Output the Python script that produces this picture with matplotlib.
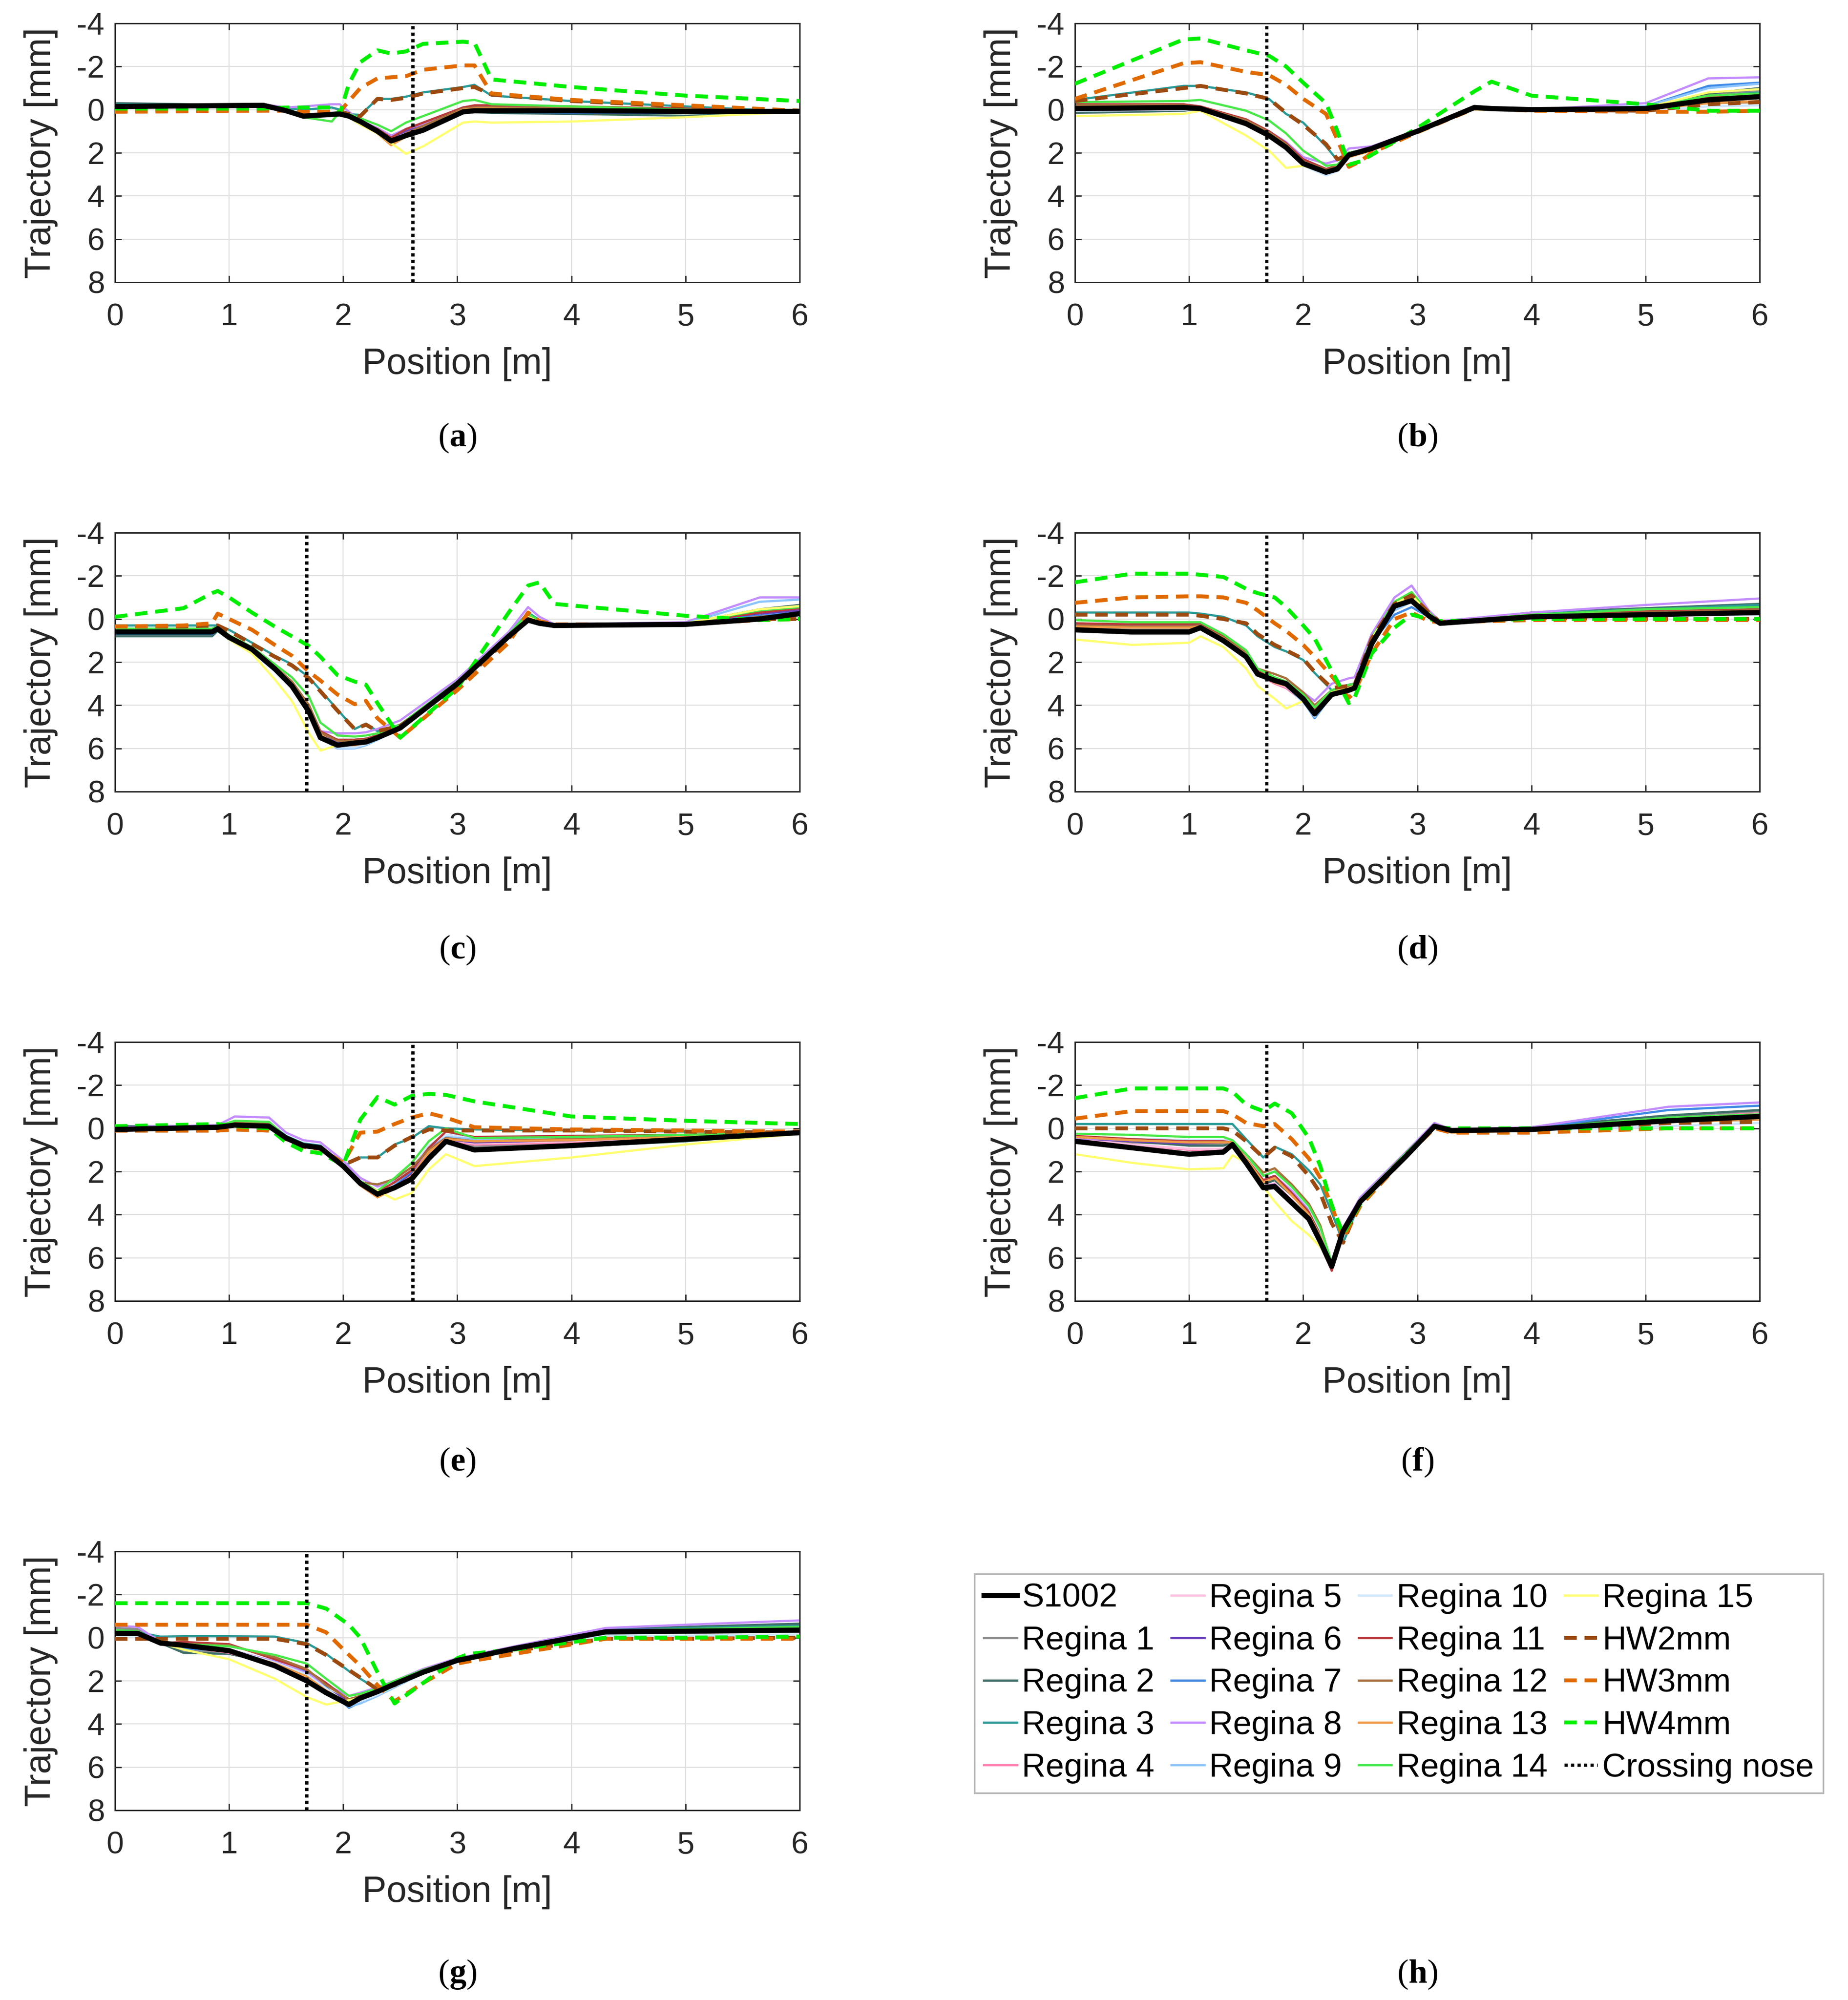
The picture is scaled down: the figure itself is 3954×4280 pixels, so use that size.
import matplotlib
matplotlib.use("Agg")
import matplotlib.pyplot as plt
from matplotlib.lines import Line2D

plt.rcParams['font.family'] = ['Liberation Sans', 'DejaVu Sans']
plt.rcParams['axes.unicode_minus'] = False
plt.rcParams['mathtext.fontset'] = 'custom'
plt.rcParams['mathtext.rm'] = 'Liberation Serif'
plt.rcParams['mathtext.bf'] = 'Liberation Serif:bold'

# ---------------- data ----------------
SERIES = ["S1002", "Regina 1", "Regina 2", "Regina 3", "Regina 4", "Regina 5",
          "Regina 6", "Regina 7", "Regina 8", "Regina 9", "Regina 10",
          "Regina 11", "Regina 12", "Regina 13", "Regina 14", "Regina 15",
          "HW2mm", "HW3mm", "HW4mm"]
COLORS = ["#000000", "#8c8c8c", "#3e6e68", "#2a9a96", "#ff80b0", "#ffbfe0",
          "#6a40b8", "#3f8ae6", "#c38cff", "#8cc4ff", "#cfe6ff",
          "#b83a3a", "#a8703c", "#f09a48", "#48e848", "#ffff70",
          "#9c4a10", "#e06a00", "#00ee00"]
PANEL_LETTERS = ["a", "b", "c", "d", "e", "f", "g"]
NOSE = [2.61, 1.68, 1.68, 1.68, 2.61, 1.68, 1.68]
X_TICKS = [0, 1, 2, 3, 4, 5, 6]
Y_TICKS = [-4, -2, 0, 2, 4, 6, 8]

# Panel (a)
XA = [0, 1.3, 1.5, 1.65, 1.9, 1.97, 2.05, 2.15, 2.3, 2.42, 2.55, 2.7, 3.05, 3.15, 3.3, 4.0, 5.0, 6.0]
YA = [
    [-0.15, -0.2, 0.05, 0.3, 0.22, 0.2, 0.3, 0.55, 1.0, 1.45, 1.2, 0.95, 0.1, 0.05, 0.05, 0.05, 0.08, 0.08],   # S1002
    [-0.2, -0.2, 0.0, 0.25, 0.15, 0.1, 0.25, 0.5, 0.9, 1.3, 1.05, 0.8, 0.0, -0.05, -0.05, 0.0, 0.05, 0.08],    # R1
    [-0.3, -0.2, 0.05, 0.3, 0.25, 0.2, 0.3, 0.55, 1.0, 1.4, 1.1, 0.85, 0.1, 0.1, 0.15, 0.2, 0.28, 0.08],      # R2
    [-0.25, -0.2, -0.05, 0.0, -0.1, 0.0, 0.2, 0.25, -0.5, -0.5, -0.6, -0.8, -1.05, -1.15, -0.65, -0.4, -0.15, 0.1],  # R3
    [-0.1, -0.2, 0.05, 0.3, 0.2, 0.2, 0.35, 0.6, 0.95, 1.4, 1.1, 0.8, -0.05, -0.1, -0.1, -0.05, 0.05, 0.08],  # R4
    [-0.1, -0.2, 0.05, 0.25, 0.15, 0.15, 0.3, 0.55, 0.9, 1.35, 1.05, 0.75, -0.05, -0.1, -0.1, -0.05, 0.05, 0.08],  # R5
    [-0.15, -0.2, 0.0, 0.25, 0.15, 0.15, 0.3, 0.6, 0.95, 1.35, 1.0, 0.7, -0.1, -0.15, -0.1, -0.05, 0.05, 0.08],  # R6
    [-0.15, -0.2, 0.05, 0.3, 0.2, 0.2, 0.35, 0.65, 1.0, 1.4, 1.15, 0.85, 0.05, 0.05, 0.1, 0.15, 0.15, 0.08],  # R7
    [-0.2, -0.25, -0.1, -0.15, -0.25, -0.25, 0.1, 0.5, 0.85, 1.2, 0.9, 0.65, -0.1, -0.15, -0.1, -0.05, 0.05, 0.08],  # R8
    [-0.2, -0.2, 0.05, 0.3, 0.2, 0.2, 0.35, 0.7, 1.05, 1.45, 1.15, 0.85, 0.0, -0.05, -0.05, 0.0, 0.05, 0.08],  # R9
    [-0.2, -0.2, 0.05, 0.25, 0.2, 0.2, 0.35, 0.65, 1.0, 1.4, 1.1, 0.8, 0.0, -0.05, -0.05, 0.0, 0.05, 0.08],   # R10
    [-0.1, -0.2, 0.05, 0.3, 0.2, 0.2, 0.3, 0.55, 0.9, 1.3, 0.9, 0.6, -0.1, -0.2, -0.2, -0.15, -0.05, 0.08],   # R11
    [-0.1, -0.2, 0.05, 0.3, 0.25, 0.2, 0.35, 0.6, 1.0, 1.5, 1.1, 0.75, -0.05, -0.1, -0.1, -0.05, 0.0, 0.08],  # R12
    [-0.1, -0.2, 0.05, 0.3, 0.25, 0.2, 0.35, 0.65, 1.1, 1.65, 1.25, 0.9, 0.0, -0.05, -0.05, 0.0, 0.05, 0.08],  # R13
    [-0.1, -0.2, 0.1, 0.35, 0.55, 0.1, 0.2, 0.4, 0.7, 1.0, 0.6, 0.3, -0.4, -0.45, -0.25, -0.15, 0.0, 0.08],   # R14
    [-0.15, -0.2, 0.05, 0.3, 0.2, 0.2, 0.35, 0.7, 1.1, 1.55, 2.05, 1.7, 0.6, 0.55, 0.6, 0.55, 0.35, 0.1],     # R15
    [0.05, 0.0, 0.05, 0.1, 0.1, 0.1, 0.2, 0.3, -0.5, -0.45, -0.55, -0.75, -1.0, -1.05, -0.7, -0.4, -0.15, 0.05],   # HW2
    [0.1, 0.05, 0.05, 0.1, 0.1, 0.1, -0.4, -1.0, -1.45, -1.5, -1.55, -1.85, -2.05, -2.05, -0.75, -0.45, -0.2, 0.05],  # HW3
    [-0.05, -0.05, -0.1, -0.1, -0.1, 0.2, -1.2, -2.2, -2.75, -2.6, -2.7, -3.05, -3.15, -3.1, -1.4, -1.05, -0.65, -0.4],  # HW4
]

# Panel (b)
XB = [0, 0.95, 1.1, 1.5, 1.7, 1.85, 2.0, 2.2, 2.3, 2.4, 2.5, 2.6, 3.0, 3.5, 3.65, 4.0, 5.0, 5.55, 6.0]
YB = [
    [-0.05, -0.1, -0.05, 0.65, 1.2, 1.75, 2.5, 2.9, 2.75, 2.1, 1.95, 1.8, 1.0, -0.1, -0.05, 0.0, -0.05, -0.45, -0.6],
    [0.0, -0.05, -0.05, 0.6, 1.1, 1.6, 2.3, 2.75, 2.6, 2.0, 1.9, 1.75, 1.0, -0.1, -0.05, 0.0, -0.1, -0.7, -0.9],
    [0.15, 0.05, -0.05, 0.6, 1.15, 1.7, 2.4, 2.8, 2.65, 2.05, 1.9, 1.8, 1.0, -0.1, -0.05, 0.0, -0.1, -0.75, -1.0],
    [-0.45, -1.1, -1.1, -0.8, -0.5, 0.2, 0.6, 1.7, 2.35, 2.0, 1.9, 1.8, 1.0, -0.1, -0.05, 0.0, -0.1, -0.6, -0.8],
    [0.05, 0.0, -0.05, 0.7, 1.25, 1.8, 2.55, 2.85, 2.7, 2.1, 1.95, 1.8, 1.0, -0.1, -0.05, 0.0, -0.05, -0.45, -0.55],
    [0.0, -0.05, -0.05, 0.65, 1.2, 1.75, 2.5, 2.8, 2.65, 2.05, 1.9, 1.75, 1.0, -0.1, -0.05, 0.0, -0.1, -0.55, -0.7],
    [-0.05, -0.1, -0.1, 0.6, 1.15, 1.7, 2.45, 2.85, 2.7, 2.05, 1.9, 1.75, 1.0, -0.1, -0.05, 0.0, -0.1, -0.6, -0.75],
    [0.0, -0.05, -0.05, 0.6, 1.1, 1.6, 2.35, 2.8, 2.65, 2.0, 1.9, 1.75, 1.0, -0.1, -0.05, 0.0, -0.15, -1.1, -1.25],
    [-0.05, -0.1, -0.1, 0.5, 1.0, 1.5, 2.2, 2.5, 2.35, 1.8, 1.75, 1.7, 0.95, -0.1, -0.05, 0.0, -0.3, -1.45, -1.5],
    [0.0, -0.05, -0.05, 0.65, 1.2, 1.8, 2.55, 3.0, 2.8, 2.15, 2.0, 1.85, 1.0, -0.1, -0.05, 0.0, -0.15, -1.0, -1.2],
    [0.05, 0.0, -0.05, 0.7, 1.25, 1.85, 2.6, 3.05, 2.85, 2.2, 2.0, 1.85, 1.0, -0.1, -0.05, 0.0, 0.05, -0.15, -0.2],
    [-0.25, -0.25, -0.15, 0.45, 1.0, 1.55, 2.3, 2.75, 2.6, 2.0, 1.9, 1.75, 1.0, -0.1, -0.05, 0.0, -0.1, -0.6, -0.7],
    [-0.2, -0.2, -0.1, 0.5, 1.05, 1.6, 2.4, 2.8, 2.65, 2.1, 1.95, 1.8, 1.0, -0.1, -0.05, 0.0, -0.05, -0.3, -0.35],
    [-0.05, -0.1, -0.05, 0.6, 1.15, 1.75, 2.55, 2.9, 2.8, 2.2, 2.05, 1.9, 1.05, -0.1, -0.05, 0.0, 0.0, -0.3, -0.4],
    [-0.35, -0.4, -0.45, 0.05, 0.5, 1.1, 1.9, 2.6, 2.55, 2.0, 1.9, 1.8, 1.0, -0.1, -0.05, 0.0, -0.1, -0.65, -0.75],
    [0.3, 0.2, 0.05, 1.2, 1.9, 2.7, 2.6, 2.9, 2.7, 2.1, 1.95, 1.8, 1.0, -0.1, -0.05, 0.0, -0.1, -0.8, -0.95],
    [-0.4, -1.0, -1.1, -0.75, -0.5, 0.15, 0.7, 1.6, 2.3, 2.1, 1.95, 1.8, 1.0, -0.1, -0.05, 0.0, 0.05, -0.25, -0.35],
    [-0.5, -2.15, -2.2, -1.75, -1.6, -1.15, -0.5, 0.2, 1.4, 2.65, 2.4, 2.0, 1.05, -0.05, -0.05, 0.05, 0.1, 0.1, 0.05],
    [-1.2, -3.25, -3.3, -2.75, -2.5, -2.0, -1.25, -0.3, 1.0, 2.55, 2.4, 2.1, 0.85, -0.85, -1.3, -0.65, -0.25, 0.05, 0.05],
]

# Panel (c)
XC = [0, 0.6, 0.85, 0.9, 1.0, 1.2, 1.4, 1.55, 1.7, 1.8, 1.95, 2.1, 2.2, 2.3, 2.5, 3.0, 3.45, 3.62, 3.72, 3.85, 5.0, 5.65, 6.0]
YC = [
    [0.6, 0.6, 0.6, 0.45, 0.85, 1.4, 2.3, 3.1, 4.3, 5.5, 5.85, 5.75, 5.7, 5.5, 5.05, 3.0, 0.8, 0.05, 0.2, 0.3, 0.25, 0.0, -0.25],
    [0.7, 0.7, 0.7, 0.5, 0.9, 1.45, 2.35, 3.15, 4.3, 5.3, 5.6, 5.6, 5.55, 5.4, 4.95, 2.95, 0.75, -0.15, 0.15, 0.3, 0.2, -0.35, -0.6],
    [0.8, 0.8, 0.8, 0.55, 0.95, 1.5, 2.4, 3.2, 4.3, 5.35, 5.6, 5.6, 5.55, 5.4, 4.95, 2.95, 0.75, -0.2, 0.1, 0.3, 0.2, -0.45, -0.65],
    [0.3, 0.3, 0.3, 0.3, 0.5, 1.1, 1.7, 2.1, 2.7, 3.3, 4.2, 5.1, 4.85, 5.2, 4.9, 2.9, 0.7, -0.3, 0.05, 0.3, 0.2, -0.3, -0.5],
    [0.6, 0.6, 0.6, 0.45, 0.9, 1.4, 2.3, 3.0, 4.1, 5.3, 5.7, 5.7, 5.65, 5.45, 5.0, 2.95, 0.8, -0.1, 0.15, 0.3, 0.2, -0.3, -0.45],
    [0.55, 0.55, 0.55, 0.4, 0.85, 1.35, 2.25, 3.0, 4.1, 5.25, 5.65, 5.65, 5.6, 5.4, 4.95, 2.95, 0.75, -0.15, 0.15, 0.3, 0.2, -0.2, -0.35],
    [0.65, 0.65, 0.65, 0.5, 0.9, 1.45, 2.35, 3.1, 4.2, 5.35, 5.75, 5.7, 5.65, 5.45, 5.0, 2.95, 0.8, -0.1, 0.15, 0.3, 0.2, -0.25, -0.4],
    [0.7, 0.7, 0.7, 0.5, 0.95, 1.5, 2.4, 3.2, 4.4, 5.5, 6.0, 5.95, 5.8, 5.55, 5.05, 3.0, 0.85, -0.05, 0.2, 0.3, 0.2, -0.15, -0.3],
    [0.5, 0.5, 0.5, 0.35, 0.8, 1.35, 2.2, 2.9, 4.0, 5.2, 5.3, 5.3, 5.25, 5.1, 4.7, 2.8, 0.6, -0.55, -0.1, 0.25, 0.15, -1.0, -1.0],
    [0.6, 0.6, 0.6, 0.45, 0.9, 1.45, 2.35, 3.15, 4.3, 5.45, 6.0, 6.0, 5.85, 5.6, 5.1, 3.0, 0.85, -0.1, 0.15, 0.3, 0.2, -0.8, -0.9],
    [0.55, 0.55, 0.55, 0.4, 0.85, 1.4, 2.3, 3.1, 4.25, 5.4, 5.95, 5.95, 5.8, 5.55, 5.05, 3.0, 0.8, -0.1, 0.15, 0.3, 0.25, 0.05, -0.1],
    [0.55, 0.55, 0.55, 0.4, 0.85, 1.35, 2.2, 2.9, 4.0, 5.2, 5.6, 5.6, 5.55, 5.4, 4.95, 2.95, 0.75, -0.2, 0.1, 0.3, 0.2, -0.3, -0.5],
    [0.5, 0.5, 0.5, 0.4, 0.8, 1.35, 2.2, 2.9, 4.0, 5.25, 5.65, 5.65, 5.6, 5.45, 5.0, 3.0, 0.85, -0.1, 0.15, 0.3, 0.25, -0.1, -0.25],
    [0.6, 0.6, 0.6, 0.45, 0.9, 1.45, 2.35, 3.1, 4.2, 5.35, 5.85, 5.85, 5.75, 5.55, 5.1, 3.05, 0.9, -0.05, 0.2, 0.3, 0.25, -0.05, -0.2],
    [0.45, 0.45, 0.45, 0.35, 0.75, 1.3, 2.1, 2.7, 3.6, 4.8, 5.4, 5.45, 5.4, 5.3, 4.9, 2.9, 0.7, -0.25, 0.1, 0.3, 0.2, -0.4, -0.55],
    [0.65, 0.65, 0.65, 0.5, 0.95, 1.6, 2.8, 3.8, 5.3, 6.1, 5.85, 5.75, 5.7, 5.5, 5.05, 3.0, 0.8, -0.1, 0.15, 0.3, 0.2, -0.45, -0.6],
    [0.35, 0.35, 0.3, 0.3, 0.55, 1.15, 1.75, 2.15, 2.75, 3.35, 4.25, 5.1, 4.9, 5.2, 4.95, 3.1, 0.9, 0.0, 0.2, 0.3, 0.25, 0.0, 0.0],
    [0.35, 0.3, 0.2, -0.25, 0.0, 0.5, 1.2, 1.7, 2.45, 2.85, 3.5, 3.95, 3.8, 4.6, 5.5, 3.3, 1.1, -0.3, 0.1, 0.25, 0.25, 0.05, 0.0],
    [-0.1, -0.5, -1.2, -1.3, -1.0, -0.3, 0.35, 0.8, 1.25, 1.75, 2.6, 2.9, 3.05, 3.9, 5.5, 3.2, -0.3, -1.55, -1.7, -0.7, -0.15, 0.05, 0.0],
]

# Panel (d)
XD = [0, 0.5, 1.0, 1.1, 1.3, 1.5, 1.6, 1.75, 1.85, 2.0, 2.1, 2.25, 2.4, 2.45, 2.6, 2.8, 2.95, 3.1, 3.2, 4.0, 5.0, 6.0]
YD = [
    [0.5, 0.6, 0.6, 0.4, 1.0, 1.75, 2.55, 2.85, 3.0, 3.7, 4.4, 3.5, 3.3, 3.2, 1.15, -0.6, -0.85, -0.15, 0.2, -0.1, -0.2, -0.3],
    [0.4, 0.45, 0.45, 0.35, 0.95, 1.7, 2.5, 2.85, 3.0, 3.6, 4.2, 3.4, 3.1, 3.05, 0.9, -0.7, -1.15, -0.3, 0.15, -0.2, -0.4, -0.6],
    [0.35, 0.4, 0.4, 0.35, 0.9, 1.65, 2.45, 2.8, 2.95, 3.55, 4.15, 3.35, 3.05, 3.0, 0.85, -0.75, -1.2, -0.3, 0.15, -0.3, -0.5, -0.7],
    [-0.3, -0.3, -0.3, -0.25, -0.1, 0.3, 0.8, 1.3, 1.5, 1.9, 2.5, 3.3, 3.1, 3.05, 0.9, -0.7, -1.15, -0.3, 0.15, -0.25, -0.45, -0.65],
    [0.3, 0.35, 0.35, 0.3, 0.85, 1.6, 2.55, 3.0, 3.2, 3.8, 4.3, 3.4, 3.15, 3.1, 0.9, -0.7, -1.1, -0.25, 0.15, -0.1, -0.25, -0.4],
    [0.3, 0.35, 0.35, 0.3, 0.85, 1.6, 2.5, 2.95, 3.15, 3.75, 4.25, 3.35, 3.1, 3.05, 0.9, -0.75, -1.15, -0.3, 0.15, -0.1, -0.3, -0.45],
    [0.25, 0.3, 0.3, 0.25, 0.8, 1.55, 2.45, 2.85, 3.05, 3.65, 4.2, 3.3, 3.05, 3.0, 0.85, -0.8, -1.2, -0.3, 0.15, -0.15, -0.3, -0.45],
    [0.3, 0.35, 0.35, 0.3, 0.85, 1.6, 2.5, 2.9, 3.1, 3.8, 4.6, 3.55, 3.3, 3.2, 1.1, -0.2, -0.55, -0.1, 0.2, -0.1, -0.2, -0.25],
    [0.2, 0.25, 0.25, 0.2, 0.8, 1.5, 2.4, 2.75, 2.9, 3.4, 3.8, 3.0, 2.75, 2.7, 0.7, -1.0, -1.55, -0.4, 0.1, -0.3, -0.65, -0.95],
    [0.35, 0.4, 0.4, 0.35, 0.9, 1.65, 2.55, 2.9, 3.1, 3.85, 4.55, 3.5, 3.25, 3.15, 1.0, -0.4, -0.8, -0.2, 0.15, -0.15, -0.35, -0.5],
    [0.35, 0.4, 0.4, 0.35, 0.9, 1.65, 2.5, 2.9, 3.05, 3.8, 4.5, 3.45, 3.2, 3.1, 1.0, -0.5, -0.9, -0.2, 0.15, -0.1, -0.15, -0.2],
    [0.2, 0.25, 0.25, 0.2, 0.8, 1.5, 2.4, 2.8, 3.0, 3.6, 4.2, 3.35, 3.1, 3.05, 0.9, -0.75, -1.2, -0.3, 0.15, -0.2, -0.35, -0.45],
    [0.3, 0.35, 0.35, 0.3, 0.85, 1.55, 2.3, 2.55, 2.75, 3.4, 4.0, 3.3, 3.1, 3.05, 0.9, -0.7, -1.15, -0.3, 0.15, -0.15, -0.3, -0.4],
    [0.35, 0.4, 0.4, 0.35, 0.9, 1.65, 2.5, 2.95, 3.1, 3.7, 4.3, 3.5, 3.3, 3.2, 1.0, -0.6, -1.0, -0.25, 0.15, -0.1, -0.2, -0.3],
    [0.05, 0.15, 0.15, 0.15, 0.7, 1.45, 2.3, 2.7, 2.9, 3.5, 4.1, 3.3, 3.05, 3.0, 0.85, -0.8, -1.25, -0.3, 0.15, -0.2, -0.45, -0.55],
    [0.95, 1.2, 1.1, 0.8, 1.3, 2.3, 3.1, 3.7, 4.15, 3.8, 4.3, 3.4, 3.2, 3.1, 0.9, -0.7, -1.1, -0.25, 0.15, -0.1, -0.25, -0.35],
    [-0.2, -0.2, -0.2, -0.15, 0.0, 0.2, 0.7, 1.2, 1.45, 1.85, 2.45, 3.2, 3.1, 3.05, 0.9, -0.7, -1.1, -0.3, 0.15, -0.05, 0.0, 0.0],
    [-0.75, -1.0, -1.05, -1.05, -1.0, -0.75, -0.4, 0.2, 0.55, 1.2, 1.75, 2.65, 3.65, 3.4, 1.6, 0.0, -0.3, 0.1, 0.15, 0.05, 0.05, 0.05],
    [-1.7, -2.1, -2.1, -2.05, -1.95, -1.4, -1.2, -1.0, -0.55, 0.3, 0.9, 2.4, 3.9, 3.65, 1.6, 0.4, -0.2, 0.0, 0.1, 0.0, 0.0, 0.0],
]

# Panel (e)
XE = [0, 0.9, 1.05, 1.35, 1.5, 1.65, 1.8, 2.0, 2.15, 2.3, 2.45, 2.6, 2.75, 2.9, 3.15, 4.0, 5.0, 6.0]
YE = [
    [0.05, -0.05, -0.15, -0.1, 0.45, 0.8, 0.9, 1.75, 2.55, 3.05, 2.75, 2.35, 1.4, 0.6, 1.0, 0.8, 0.5, 0.2],
    [0.05, -0.1, -0.25, -0.2, 0.4, 0.7, 0.8, 1.7, 2.5, 2.95, 2.65, 2.2, 1.2, 0.45, 0.85, 0.7, 0.45, 0.2],
    [-0.1, -0.1, -0.25, -0.2, 0.4, 0.75, 0.85, 1.75, 2.55, 3.0, 2.65, 2.25, 1.3, 0.5, 0.95, 0.85, 0.6, 0.2],
    [-0.05, -0.1, -0.3, -0.25, 0.35, 0.7, 0.8, 1.75, 1.35, 1.35, 0.75, 0.45, -0.1, 0.0, 0.05, 0.1, 0.15, 0.2],
    [0.05, -0.05, -0.2, -0.15, 0.45, 0.8, 0.9, 1.75, 2.55, 3.0, 2.6, 2.1, 1.1, 0.55, 0.75, 0.65, 0.45, 0.2],
    [0.0, -0.1, -0.3, -0.25, 0.4, 0.75, 0.85, 1.7, 2.5, 2.95, 2.55, 2.05, 1.0, 0.5, 0.7, 0.6, 0.4, 0.2],
    [0.0, -0.1, -0.3, -0.25, 0.4, 0.75, 0.85, 1.7, 2.5, 2.95, 2.6, 2.1, 1.05, 0.5, 0.65, 0.55, 0.4, 0.2],
    [0.05, -0.05, -0.2, -0.15, 0.45, 0.8, 0.9, 1.8, 2.6, 3.1, 2.6, 2.0, 0.9, 0.35, 0.55, 0.5, 0.35, 0.2],
    [-0.05, -0.15, -0.55, -0.5, 0.2, 0.55, 0.65, 1.5, 2.3, 2.7, 2.4, 1.95, 1.0, 0.4, 0.45, 0.4, 0.3, 0.2],
    [0.05, -0.05, -0.25, -0.2, 0.45, 0.8, 0.9, 1.8, 2.6, 3.15, 2.55, 1.9, 0.8, 0.35, 0.5, 0.45, 0.35, 0.2],
    [0.05, -0.05, -0.25, -0.2, 0.45, 0.8, 0.9, 1.8, 2.6, 3.1, 2.5, 1.9, 0.8, 0.3, 0.4, 0.35, 0.3, 0.2],
    [0.0, -0.1, -0.3, -0.25, 0.4, 0.75, 0.85, 1.7, 2.5, 2.95, 2.5, 1.95, 0.9, 0.15, 0.4, 0.35, 0.3, 0.2],
    [0.0, -0.1, -0.25, -0.2, 0.45, 0.8, 0.9, 1.75, 2.5, 2.6, 2.35, 1.8, 1.0, 0.45, 0.6, 0.5, 0.4, 0.2],
    [0.05, -0.05, -0.2, -0.15, 0.45, 0.8, 0.9, 1.8, 2.65, 3.2, 2.8, 2.2, 1.1, 0.5, 0.6, 0.55, 0.4, 0.2],
    [0.05, -0.1, -0.35, -0.3, 0.4, 0.75, 0.85, 1.7, 2.45, 2.9, 2.3, 1.6, 0.6, 0.0, 0.45, 0.4, 0.3, 0.2],
    [0.05, -0.05, -0.2, -0.15, 0.45, 0.8, 0.9, 1.75, 2.55, 2.9, 3.3, 3.0, 1.9, 1.2, 1.75, 1.35, 0.75, 0.25],
    [0.1, 0.1, 0.05, 0.1, 0.5, 0.85, 0.95, 1.7, 1.35, 1.35, 0.8, 0.4, 0.05, 0.1, 0.1, 0.1, 0.15, 0.2],
    [0.1, 0.1, 0.05, 0.1, 0.5, 0.85, 0.95, 1.6, 0.2, 0.15, -0.2, -0.5, -0.7, -0.5, -0.05, 0.05, 0.1, 0.15],
    [-0.1, -0.2, -0.1, 0.0, 0.65, 1.05, 1.15, 1.7, -0.4, -1.45, -1.1, -1.5, -1.6, -1.55, -1.25, -0.55, -0.35, -0.2],
]

# Panel (f)
XF = [0, 0.5, 1.0, 1.3, 1.38, 1.5, 1.65, 1.75, 1.9, 2.05, 2.15, 2.25, 2.35, 2.5, 2.9, 3.15, 3.3, 4.0, 5.2, 6.0]
YF = [
    [0.6, 0.9, 1.2, 1.1, 0.75, 1.6, 2.75, 2.7, 3.45, 4.2, 5.25, 6.4, 4.75, 3.4, 1.3, -0.1, 0.1, 0.05, -0.35, -0.55],
    [0.5, 0.65, 0.75, 0.7, 0.65, 1.5, 2.5, 2.3, 3.0, 3.8, 4.8, 6.2, 4.7, 3.4, 1.2, -0.15, 0.1, 0.0, -0.55, -0.8],
    [0.45, 0.6, 0.8, 0.8, 0.7, 1.5, 2.6, 2.4, 3.1, 3.9, 4.9, 6.25, 4.75, 3.4, 1.2, -0.15, 0.1, -0.05, -0.6, -0.85],
    [-0.2, -0.2, -0.2, -0.2, -0.2, 0.5, 1.35, 0.85, 1.2, 1.95, 2.6, 3.9, 5.3, 3.4, 1.2, -0.1, 0.1, 0.0, -0.45, -0.6],
    [0.5, 0.75, 1.0, 1.0, 0.75, 1.6, 2.7, 2.6, 3.4, 4.3, 5.4, 6.6, 4.9, 3.4, 1.3, -0.1, 0.15, 0.05, -0.45, -0.7],
    [0.5, 0.75, 0.95, 0.95, 0.7, 1.55, 2.65, 2.55, 3.3, 4.2, 5.3, 6.5, 4.85, 3.4, 1.3, -0.1, 0.15, 0.05, -0.4, -0.6],
    [0.45, 0.6, 0.7, 0.65, 0.65, 1.5, 2.7, 2.6, 3.35, 4.2, 5.3, 6.5, 4.8, 3.4, 1.25, -0.15, 0.1, 0.0, -0.45, -0.6],
    [0.4, 0.5, 0.55, 0.55, 0.6, 1.3, 2.2, 2.0, 2.7, 3.6, 4.6, 6.3, 4.7, 3.3, 1.2, -0.15, 0.1, 0.0, -0.85, -1.05],
    [0.45, 0.55, 0.6, 0.6, 0.6, 1.4, 2.4, 2.2, 2.9, 3.7, 4.7, 6.2, 4.6, 3.2, 1.1, -0.25, 0.05, -0.05, -1.0, -1.2],
    [0.4, 0.55, 0.6, 0.6, 0.6, 1.35, 2.2, 2.0, 2.7, 3.6, 4.6, 6.5, 4.8, 3.4, 1.25, -0.1, 0.15, 0.05, -0.3, -0.4],
    [0.4, 0.5, 0.55, 0.55, 0.6, 1.3, 2.2, 2.0, 2.75, 3.65, 4.7, 6.4, 4.8, 3.4, 1.25, -0.1, 0.15, 0.1, -0.1, -0.25],
    [0.35, 0.5, 0.6, 0.6, 0.65, 1.4, 2.4, 2.2, 3.0, 3.9, 5.0, 6.6, 4.9, 3.4, 1.25, -0.1, 0.15, 0.05, -0.4, -0.55],
    [0.4, 0.55, 0.65, 0.65, 0.65, 1.2, 2.05, 1.85, 2.6, 3.5, 4.5, 6.3, 4.8, 3.4, 1.25, -0.1, 0.15, 0.05, -0.4, -0.5],
    [0.4, 0.55, 0.65, 0.65, 0.65, 1.4, 2.5, 2.3, 3.1, 4.0, 5.0, 6.4, 4.85, 3.45, 1.3, -0.05, 0.2, 0.1, -0.3, -0.4],
    [0.25, 0.3, 0.4, 0.4, 0.55, 1.2, 2.2, 2.0, 2.7, 3.6, 4.6, 6.2, 4.7, 3.3, 1.15, -0.15, 0.1, 0.0, -0.5, -0.65],
    [1.2, 1.6, 1.9, 1.85, 1.25, 1.6, 2.7, 3.4, 4.3, 4.95, 5.5, 6.3, 4.8, 3.4, 1.3, -0.1, 0.15, 0.05, -0.35, -0.5],
    [0.0, 0.0, 0.0, 0.0, 0.1, 0.6, 1.35, 0.9, 1.3, 2.2, 3.0, 4.4, 5.3, 3.4, 1.2, -0.05, 0.15, 0.1, -0.25, -0.3],
    [-0.45, -0.8, -0.8, -0.8, -0.65, -0.25, -0.1, -0.2, 0.5, 1.4, 2.3, 3.6, 5.1, 3.6, 1.3, 0.0, 0.2, 0.2, 0.0, 0.0],
    [-1.4, -1.85, -1.85, -1.85, -1.7, -1.1, -0.8, -1.15, -0.7, 0.45, 1.75, 3.55, 4.9, 3.5, 1.2, -0.05, 0.0, 0.0, 0.0, 0.0],
]

# Panel (g)
XG = [0, 0.2, 0.4, 0.6, 1.0, 1.4, 1.68, 1.85, 2.05, 2.15, 2.3, 2.45, 2.7, 3.0, 3.1, 3.5, 4.3, 5.0, 6.0]
YG = [
    [-0.2, -0.2, 0.25, 0.35, 0.6, 1.3, 2.0, 2.55, 3.1, 2.8, 2.5, 2.15, 1.6, 1.05, 0.95, 0.5, -0.27, -0.3, -0.35],
    [-0.45, -0.4, 0.25, 0.6, 0.65, 1.25, 1.85, 2.45, 2.95, 2.7, 2.4, 2.05, 1.55, 1.0, 0.9, 0.45, -0.35, -0.45, -0.55],
    [-0.35, -0.3, 0.25, 0.7, 0.75, 1.2, 1.8, 2.4, 2.95, 2.7, 2.4, 2.05, 1.5, 1.0, 0.9, 0.45, -0.4, -0.5, -0.65],
    [-0.3, -0.25, -0.05, -0.07, -0.07, -0.05, 0.25, 0.75, 1.55, 1.9, 2.4, 2.1, 1.55, 1.0, 0.9, 0.45, -0.35, -0.45, -0.55],
    [-0.3, -0.25, 0.25, 0.4, 0.7, 1.3, 1.9, 2.5, 3.0, 2.75, 2.45, 2.1, 1.55, 1.0, 0.9, 0.45, -0.3, -0.35, -0.45],
    [-0.25, -0.2, 0.25, 0.35, 0.65, 1.25, 1.85, 2.45, 2.95, 2.7, 2.4, 2.05, 1.5, 1.0, 0.9, 0.45, -0.3, -0.35, -0.45],
    [-0.3, -0.25, 0.25, 0.4, 0.6, 1.2, 1.8, 2.4, 2.9, 2.7, 2.4, 2.05, 1.5, 1.0, 0.9, 0.45, -0.35, -0.4, -0.5],
    [-0.25, -0.2, 0.25, 0.5, 0.6, 1.15, 1.6, 2.3, 3.25, 3.0, 2.6, 2.2, 1.6, 1.05, 0.95, 0.5, -0.25, -0.3, -0.35],
    [-0.55, -0.5, 0.2, 0.35, 0.55, 1.1, 1.65, 2.2, 2.7, 2.55, 2.3, 2.0, 1.45, 0.95, 0.85, 0.4, -0.45, -0.6, -0.8],
    [-0.15, -0.1, 0.25, 0.35, 0.6, 1.2, 1.75, 2.4, 3.2, 3.05, 2.7, 2.3, 1.65, 1.05, 0.95, 0.5, -0.2, -0.25, -0.3],
    [-0.1, -0.05, 0.25, 0.35, 0.55, 1.15, 1.7, 2.35, 3.1, 2.95, 2.65, 2.25, 1.65, 1.05, 0.95, 0.5, -0.1, -0.1, -0.15],
    [-0.3, -0.25, 0.25, 0.2, 0.3, 1.0, 1.5, 2.1, 2.9, 2.7, 2.4, 2.05, 1.5, 1.0, 0.9, 0.45, -0.3, -0.35, -0.45],
    [-0.3, -0.25, 0.25, 0.3, 0.35, 0.9, 1.45, 2.2, 2.85, 2.7, 2.4, 2.05, 1.5, 1.0, 0.9, 0.45, -0.3, -0.35, -0.4],
    [-0.25, -0.2, 0.25, 0.35, 0.6, 1.2, 1.8, 2.45, 3.05, 2.85, 2.55, 2.2, 1.6, 1.05, 0.95, 0.5, -0.25, -0.3, -0.35],
    [-0.35, -0.3, 0.25, 0.3, 0.4, 0.8, 1.2, 1.9, 2.7, 2.6, 2.35, 2.0, 1.5, 1.0, 0.9, 0.45, -0.3, -0.4, -0.5],
    [-0.2, -0.15, 0.25, 0.55, 1.0, 1.9, 2.75, 3.1, 2.9, 2.8, 2.5, 2.15, 1.6, 1.05, 0.95, 0.5, -0.25, -0.3, -0.35],
    [0.05, 0.05, 0.05, 0.05, 0.05, 0.05, 0.3, 0.8, 1.5, 1.85, 2.4, 2.2, 1.6, 1.05, 0.95, 0.6, 0.05, 0.05, 0.0],
    [-0.6, -0.6, -0.6, -0.6, -0.6, -0.6, -0.6, -0.25, 0.8, 1.3, 2.2, 2.95, 2.1, 1.2, 1.1, 0.75, 0.05, 0.05, 0.05],
    [-1.6, -1.6, -1.6, -1.6, -1.6, -1.6, -1.6, -1.35, -0.6, 0.0, 1.6, 3.05, 2.1, 0.95, 0.75, 0.55, 0.0, 0.0, -0.05],
]

PANELS_X = [XA, XB, XC, XD, XE, XF, XG]
PANELS_Y = [YA, YB, YC, YD, YE, YF, YG]

# ---------------- layout ----------------
FIG_W, FIG_H = 3955, 4280
DPI = 100
COL_X = [246, 2300]
ROW_Y = [50, 1140, 2230, 3320]
AX_W, AX_H = 1465, 554
LABEL_Y = [937, 2033, 3129, 4225]

TICK_FS = 48
LABEL_FS = 56
LEG_FS = 51
AX_COLOR = "#262626"


def rect(x0, y0, w, h):
    return [x0 / FIG_W, 1 - (y0 + h) / FIG_H, w / FIG_W, h / FIG_H]


def style_for(i):
    name = SERIES[i]
    if name == "S1002":
        return dict(lw=8.0, ls="-", zorder=4)
    if name.startswith("HW"):
        return dict(lw=6.0, ls=(0, (3.2, 2.0)), zorder=3)
    return dict(lw=3.4, ls="-", zorder=2)


NOSE_STYLE = dict(color="black", lw=5.0, ls=(0, (1.0, 1.0)))

fig = plt.figure(figsize=(FIG_W / DPI, FIG_H / DPI), dpi=DPI)

for k in range(7):
    r, c = divmod(k, 2)
    ax = fig.add_axes(rect(COL_X[c], ROW_Y[r], AX_W, AX_H))
    xs = PANELS_X[k]
    ys = PANELS_Y[k]
    assert all(len(y) == len(xs) for y in ys), (k, [len(y) for y in ys], len(xs))
    order = list(range(1, 19)) + [0]
    for i in order:
        st = style_for(i)
        ax.plot(xs, ys[i], color=COLORS[i], lw=st["lw"], ls=st["ls"],
                zorder=st["zorder"], solid_joinstyle="round",
                dash_capstyle="butt")
    ax.axvline(NOSE[k], zorder=5, **NOSE_STYLE)

    ax.set_xlim(0, 6)
    ax.set_ylim(8, -4)
    ax.set_xticks(X_TICKS)
    ax.set_yticks(Y_TICKS)
    ax.grid(True, color="#dedede", lw=1.6, zorder=0)
    ax.set_axisbelow(True)
    for sp in ax.spines.values():
        sp.set_color(AX_COLOR)
        sp.set_linewidth(2.2)
    ax.tick_params(axis="both", direction="in", length=10, width=2.0,
                   color=AX_COLOR, labelcolor=AX_COLOR, labelsize=TICK_FS,
                   top=True, right=True)
    ax.tick_params(axis="x", pad=32)
    ax.tick_params(axis="y", pad=16)
    ax.set_xlabel("Position [m]", fontsize=LABEL_FS, color=AX_COLOR)
    ax.set_ylabel("Trajectory [mm]", fontsize=LABEL_FS, color=AX_COLOR)
    ax.xaxis.set_label_coords(0.5, -0.25)
    ax.yaxis.set_label_coords(-0.083, 0.5)

    cx = (COL_X[c] + AX_W / 2) / FIG_W
    cy = 1 - LABEL_Y[r] / FIG_H
    fig.text(cx, cy, "(" + r"$\mathbf{" + PANEL_LETTERS[k] + "}$" + ")",
             ha="center", va="center", fontsize=52, family="Liberation Serif")

# (h) label under the legend
fig.text((COL_X[1] + AX_W / 2) / FIG_W, 1 - LABEL_Y[3] / FIG_H,
         "(" + r"$\mathbf{h}$" + ")", ha="center", va="center",
         fontsize=52, family="Liberation Serif")

# legend
handles = []
for i, name in enumerate(SERIES):
    st = style_for(i)
    handles.append(Line2D([], [], color=COLORS[i], lw=st["lw"], ls=st["ls"]))
handles.append(Line2D([], [], **NOSE_STYLE))
labels = SERIES + ["Crossing nose"]

leg = fig.legend(handles, labels, ncol=4, loc="upper left",
                 bbox_to_anchor=(2085 / FIG_W, 1 - 3368 / FIG_H),
                 frameon=True, fancybox=False, fontsize=LEG_FS,
                 handlelength=1.0, handletextpad=0.15, columnspacing=0.5,
                 labelspacing=0.35, borderpad=0.28, borderaxespad=0.0)
leg.get_frame().set_edgecolor("#a0a0a0")
leg.get_frame().set_linewidth(2.5)

fig.savefig("out.png", dpi=DPI)
